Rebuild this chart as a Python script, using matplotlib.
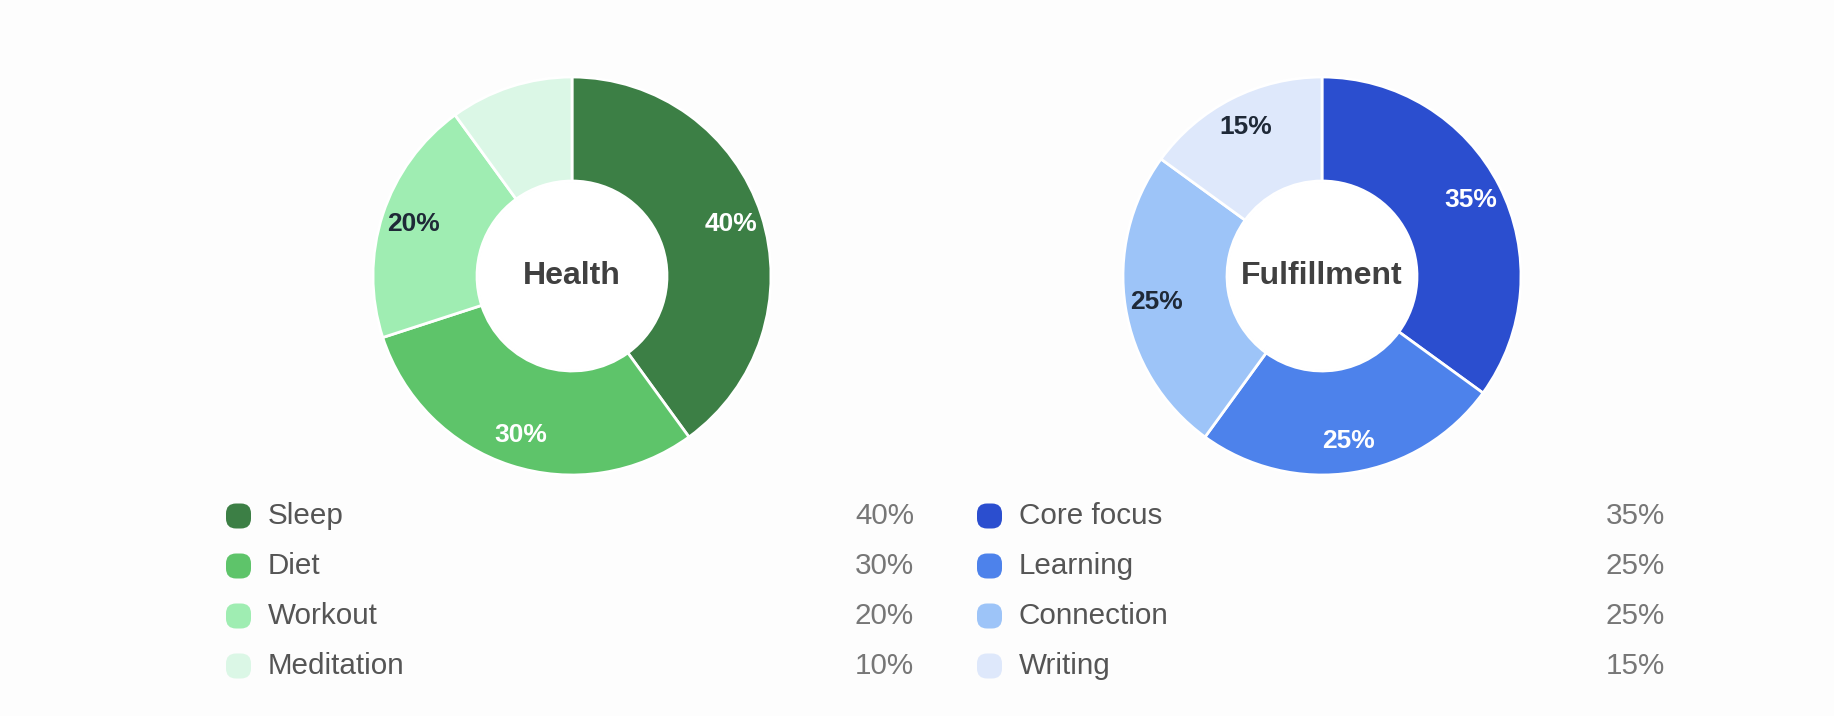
import matplotlib.pyplot as plt
import numpy as np
from matplotlib.patches import FancyBboxPatch

# Data
health_labels = ['Sleep', 'Diet', 'Workout', 'Meditation']
health_values = [40, 30, 20, 10]
health_colors = ['#3c7f45', '#5ec46a', '#9fedb2', '#dbf7e6']
health_text = ['white', 'white', '#1f2937', '#1f2937']

fulfill_labels = ['Core focus', 'Learning', 'Connection', 'Writing']
fulfill_values = [35, 25, 25, 15]
fulfill_colors = ['#2b4ecf', '#4d82eb', '#9dc4f8', '#dee8fb']
fulfill_text = ['white', 'white', '#1f2937', '#1f2937']

W, H = 1834, 716
plt.rcParams['font.family'] = ['Liberation Sans', 'DejaVu Sans']

fig = plt.figure(figsize=(W / 100, H / 100), dpi=100)
fig.patch.set_facecolor('#fdfdfd')

R_OUT, R_IN = 199, 95


def donut(cx, cy, values, colors, text_colors, title):
    ax = fig.add_axes([(cx - R_OUT) / W, (H - cy - R_OUT) / H, 2 * R_OUT / W, 2 * R_OUT / H])
    wedges, _ = ax.pie(values, colors=colors, startangle=90, counterclock=False,
                       radius=1, wedgeprops=dict(width=1 - R_IN / R_OUT, edgecolor='white', linewidth=2))
    ax.set_xlim(-1, 1)
    ax.set_ylim(-1, 1)
    ax.add_patch(plt.Circle((0, 0), R_IN / R_OUT - 0.005, color='white', zorder=0))
    ax.text(0, 0, title, ha='center', va='center', fontsize=23, fontweight='bold', color='#404040')
    total = sum(values)
    for w, v, tc in zip(wedges, values, text_colors):
        if v / total < 0.15:
            continue
        mid = np.deg2rad((w.theta1 + w.theta2) / 2)
        r = 0.84
        ax.text(r * np.cos(mid), r * np.sin(mid), f'{v}%', ha='center', va='center',
                fontsize=19, fontweight='bold', color=tc)
    ax.axis('off')


donut(572, 276, health_values, health_colors, health_text, 'Health')
donut(1322, 276, fulfill_values, fulfill_colors, fulfill_text, 'Fulfillment')

# Legend overlay in pixel coordinates
lax = fig.add_axes([0, 0, 1, 1])
lax.set_xlim(0, W)
lax.set_ylim(H, 0)
lax.axis('off')


def legend(x0, x_right, labels, values, colors):
    for i, (lab, v, c) in enumerate(zip(labels, values, colors)):
        y = 516 + i * 50
        lax.add_patch(FancyBboxPatch((x0, y - 12.5), 25, 25,
                                     boxstyle='round,pad=0,rounding_size=10',
                                     facecolor=c, edgecolor='none', linewidth=0))
        lax.text(x0 + 42, y, lab, ha='left', va='center', fontsize=21.3, color='#555555')
        lax.text(x_right, y, f'{v}%', ha='right', va='center', fontsize=21.3, color='#777777')


legend(226, 914, health_labels, health_values, health_colors)
legend(977, 1665, fulfill_labels, fulfill_values, fulfill_colors)

fig.savefig('out.png', dpi=100, facecolor=fig.get_facecolor())
